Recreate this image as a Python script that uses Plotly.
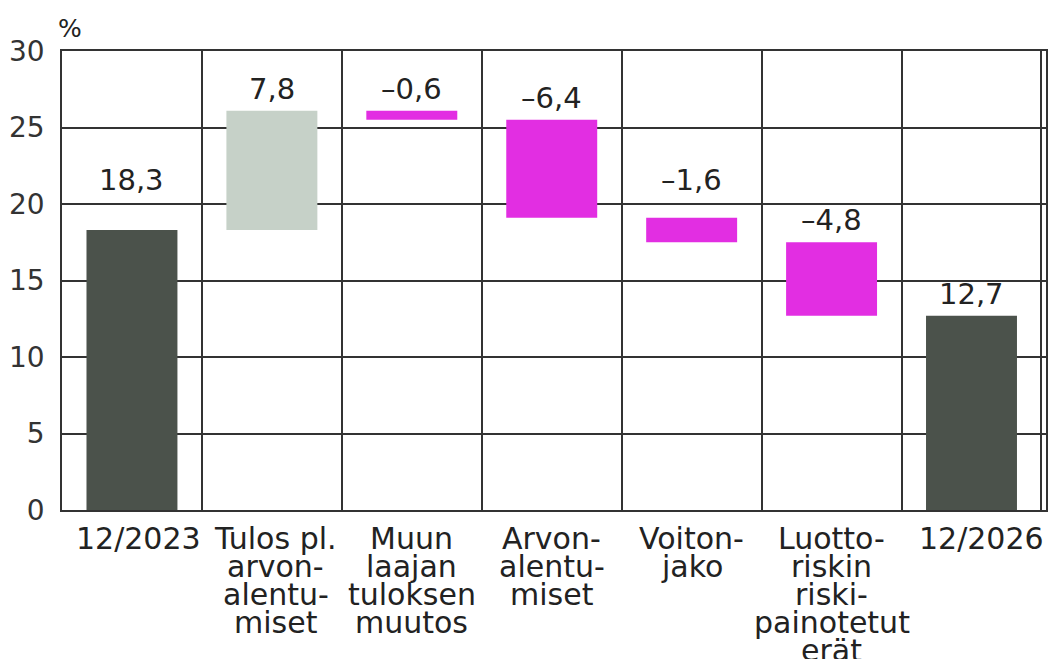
import plotly.graph_objects as go

# ---- data ----
categories = ["12/2023", "Tulos pl. arvon-alentu-miset", "Muun laajan tuloksen muutos",
              "Arvon-alentu-miset", "Voiton-jako", "Luotto-riskin riski-painotetut erät", "12/2026"]
label_lines = [
    ["12/2023"],
    ["Tulos pl.", "arvon-", "alentu-", "miset"],
    ["Muun", "laajan", "tuloksen", "muutos"],
    ["Arvon-", "alentu-", "miset"],
    ["Voiton-", "jako"],
    ["Luotto-", "riskin", "riski-", "painotetut", "erät"],
    ["12/2026"],
]
measures = ["absolute", "relative", "relative", "relative", "relative", "relative", "total"]
values = [18.3, 7.8, -0.6, -6.4, -1.6, -4.8, 12.7]
value_labels = ["18,3", "7,8", "\u20130,6", "\u20136,4", "\u20131,6", "\u20134,8", "12,7"]
y_ticks = [0, 5, 10, 15, 20, 25, 30]

# ---- styles ----
DARK = "rgb(75,82,75)"
LIGHT = "rgb(198,209,200)"
MAGENTA = "rgb(226,46,226)"
GRID = "#333333"
TXT = "#222222"
FONT = "DejaVu Sans"
label_lift = [36, 8, 8, 8, 24, 8, 8]      # px gap between bar top and value label
label_xshift = [7, 4, 0, 0, 0, 0, 10]     # px horizontal nudge of category labels

fig = go.Figure(go.Waterfall(
    x=categories,
    y=values,
    measure=measures,
    increasing=dict(marker=dict(color=LIGHT)),
    decreasing=dict(marker=dict(color=MAGENTA)),
    totals=dict(marker=dict(color=DARK)),
    connector=dict(visible=False),
    hoverinfo="skip",
    width=0.65,
))

annotations = []
running = 0.0
for cat, m, v, lab, lift in zip(categories, measures, values, value_labels, label_lift):
    if m == "relative":
        top = max(running, running + v)
        running += v
    else:
        running = v
        top = v
    annotations.append(dict(x=cat, y=top, xref="x", yref="y", text=lab, showarrow=False,
                            yanchor="bottom", yshift=lift - 5,
                            font=dict(family=FONT, size=29, color=TXT)))

for cat, lines, xs in zip(categories, label_lines, label_xshift):
    for i, line in enumerate(lines):
        annotations.append(dict(x=cat, y=0, xref="x", yref="paper", text=line, showarrow=False,
                                yanchor="middle", yshift=-28 - 28 * i, xshift=xs,
                                font=dict(family=FONT, size=30, color=TXT)))

annotations.append(dict(x=0, y=1, xref="paper", yref="paper", text="%", showarrow=False,
                        xanchor="left", yanchor="bottom", yshift=6, xshift=-6,
                        font=dict(family=FONT, size=25, color=TXT)))

fig.update_layout(
    width=1052, height=659,
    margin=dict(l=62, r=6, t=51, b=149),
    paper_bgcolor="white", plot_bgcolor="white",
    showlegend=False,
    annotations=annotations,
    font=dict(family=FONT, size=28, color="#333333"),
    xaxis=dict(type="category", tickson="boundaries", showgrid=True, gridcolor=GRID, gridwidth=1.5,
               showticklabels=False, ticks="", showline=True, linecolor=GRID, linewidth=1.5,
               mirror=True, fixedrange=True, automargin=False),
    yaxis=dict(range=[0, 30], tickvals=y_ticks, showgrid=True, gridcolor=GRID, gridwidth=1.5,
               showline=True, linecolor=GRID, linewidth=1.5, mirror=True, zeroline=False,
               ticks="", ticklabelstandoff=10, tickfont=dict(family=FONT, size=28, color="#333333"),
               fixedrange=True, automargin=False),
)

fig.write_html("out.html", config={"displayModeBar": False, "responsive": False},
               post_script="document.body.style.margin='0';document.body.style.overflow='hidden';")
